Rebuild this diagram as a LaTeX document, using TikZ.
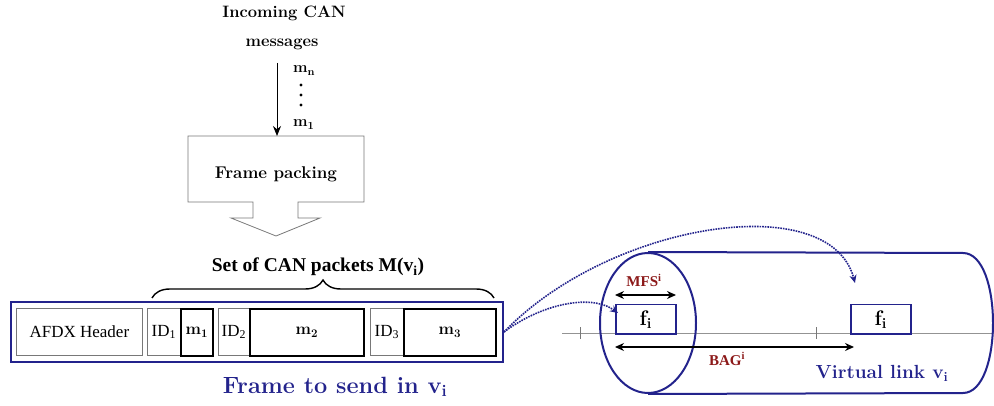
\documentclass[tikz,border=0pt]{standalone}
\usepackage{fontspec}
\newfontfamily\tnr{Liberation Serif}
\usetikzlibrary{arrows.meta,decorations.pathreplacing,shapes.geometric}
\definecolor{navy}{RGB}{35,35,140}
\definecolor{dred}{RGB}{140,25,25}
\definecolor{boxgray}{RGB}{120,120,120}
\begin{document}
\begin{tikzpicture}[x=1pt,y=-1pt,
  lm/.style={inner sep=0pt, font=\fontsize{#1}{#1}\selectfont\bfseries},
  tb/.style={inner sep=0pt, font=\fontsize{#1}{#1}\selectfont\tnr\bfseries},
  idbox/.style={draw=boxgray, line width=0.8pt, anchor=north west, inner sep=0pt, minimum height=47pt, font=\fontsize{17}{17}\selectfont\tnr},
  msgbox/.style={draw=black, line width=1.8pt, anchor=north west, inner sep=0pt, minimum height=47pt, font=\fontsize{16.5}{16.5}\selectfont\bfseries},
  fbox/.style={draw=navy, line width=1.5pt, anchor=north west, inner sep=0pt, minimum width=60pt, minimum height=29pt, font=\fontsize{21}{21}\selectfont\bfseries},
  navyline/.style={draw=navy, line width=2pt},
  dotarrow/.style={draw=navy, line width=1.6pt, densely dotted, -{Stealth[length=8pt,width=7pt]}},
  dimarrow/.style={draw=black, line width=1.3pt, {Stealth[length=9pt,width=8pt]}-{Stealth[length=9pt,width=8pt]}},
]
\useasboundingbox (0,0) rectangle (994,406);

% ---------- top part ----------
\node[lm=16.5, anchor=base] (in1) at (284,18) {Incoming CAN};
\node[lm=16.5, anchor=base] (in2) at (282,47) {messages};
\node[lm=15.5, anchor=base west] (mn) at (293,73) {m\textsubscript{n}};
\fill (301,85) circle (1.6pt) (301,95) circle (1.6pt) (301,105) circle (1.6pt);
\node[lm=15.5, anchor=base west] (m1l) at (293,127) {m\textsubscript{1}};

\draw[draw=boxgray, line width=0.8pt] (188,136) -- (364,136) -- (364,202) -- (298,202) -- (298,218)
  -- (320,218) -- (276,236) -- (231,218) -- (253,218) -- (253,202) -- (188,202) -- cycle;
\node[lm=17, anchor=base] (fp) at (276,179) {Frame packing};
\coordinate (arrtop) at (277,63);
\coordinate (arrbot) at (277,136);
\draw[line width=1pt, -{Stealth[length=10pt,width=8pt]}] (arrtop) -- (arrbot);

% ---------- frame ----------
\node[tb=19.5, anchor=base] (set) at (318,272) {Set of CAN packets M(v\textsubscript{i})};
\coordinate (brl) at (152,298);
\coordinate (brr) at (494,298);
\draw[line width=1.4pt, decorate, decoration={brace, amplitude=18pt}] (brl) -- (brr);

\node[draw=navy, line width=2pt, anchor=north west, minimum width=492pt, minimum height=60pt, inner sep=0pt] (frame) at (10,301) {};
\node[idbox, minimum width=126pt] (afdx) at (16,308) {AFDX Header};
\node[idbox, minimum width=33pt] (id1) at (147,308) {ID\textsubscript{1}};
\node[msgbox, minimum width=32pt] (m1) at (180,308) {m\textsubscript{1}};
\node[idbox, minimum width=31pt] (id2) at (218,308) {ID\textsubscript{2}};
\node[msgbox, minimum width=114pt] (m2) at (249,308) {m\textsubscript{2}};
\node[idbox, minimum width=33pt] (id3) at (370,308) {ID\textsubscript{3}};
\node[msgbox, minimum width=92pt] (m3) at (403,308) {m\textsubscript{3}};

\node[lm=23.5, anchor=base, text=navy] (send) at (335,393) {Frame to send in v\textsubscript{i}};

% ---------- virtual link ----------
\draw[draw=boxgray!80, line width=1pt] (562,333) -- (994,333);
\draw[draw=boxgray, line width=1pt] (580,327) -- (580,339) (816,327) -- (816,339);

\node[draw=navy, line width=2pt, ellipse, minimum width=96pt, minimum height=140pt, inner sep=0pt] (vend) at (648,323) {};
\coordinate (ctr) at (963,253);
\coordinate (cbr) at (963,393);
\draw[navyline] (vend.north) -- (ctr) .. controls (1003,253) and (1003,393) .. (cbr) -- (vend.south);

\node[fbox] (f1) at (615,304) {f\textsubscript{i}};
\node[fbox] (f2) at (850,304) {f\textsubscript{i}};

\coordinate (mfsl) at (615,295);
\coordinate (mfsr) at (676,295);
\draw[dimarrow] (mfsl) -- (mfsr);
\node[tb=15, text=dred, anchor=base] (mfs) at (644,287) {MFS\textsuperscript{i}};

\coordinate (bagl) at (615,347);
\coordinate (bagr) at (854,347);
\draw[dimarrow] (bagl) -- (bagr);
\node[tb=15, text=dred, anchor=base] (bag) at (727,365) {BAG\textsuperscript{i}};

\node[font=\fontsize{19}{19}\selectfont\bfseries, text=navy, inner sep=0pt, anchor=base] (vl) at (882,378) {Virtual link v\textsubscript{i}};

\coordinate (t1) at (618,313);
\coordinate (t2) at (855,283);
\draw[dotarrow] (frame.east) .. controls (540,305) and (590,293) .. (t1);
\draw[dotarrow] (frame.east) .. controls (610,222) and (830,188) .. (t2);
\end{tikzpicture}
\end{document}
